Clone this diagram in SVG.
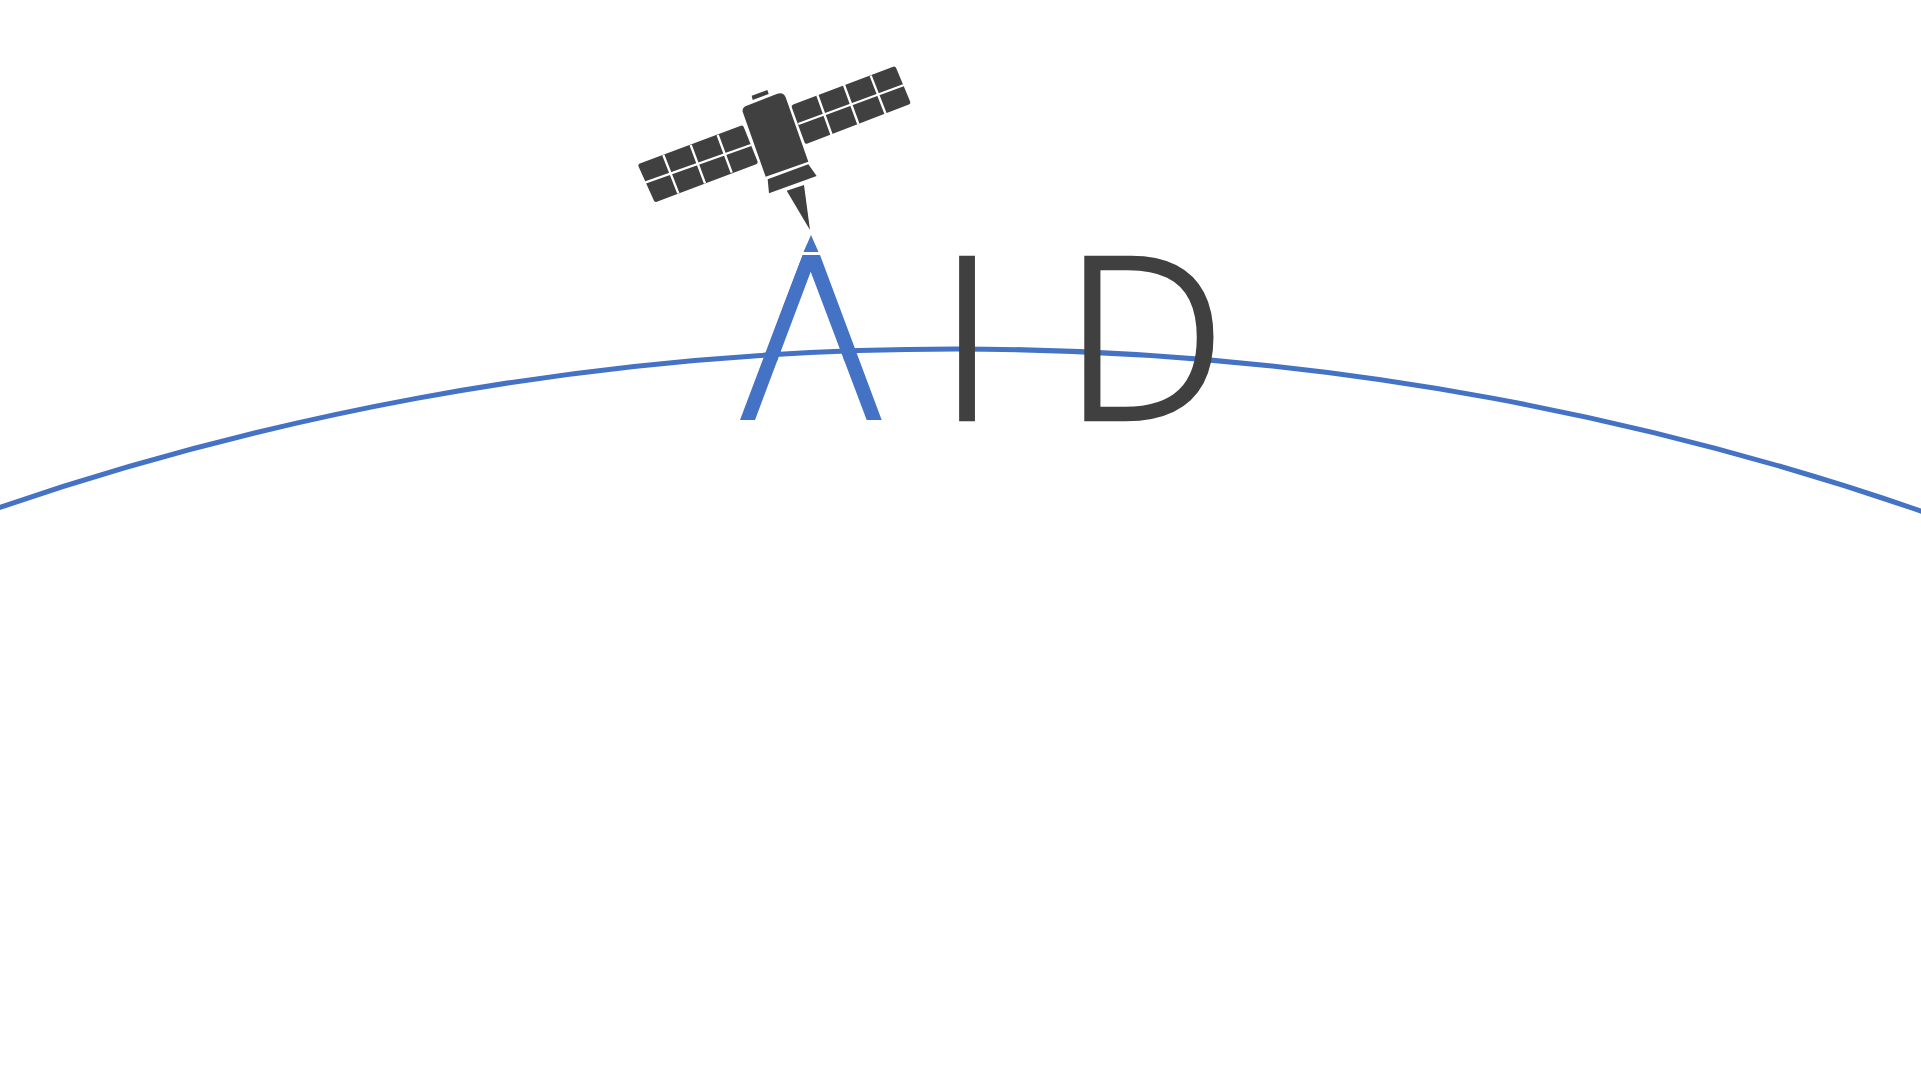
<svg xmlns="http://www.w3.org/2000/svg" width="1921" height="1081" viewBox="0 0 1921 1081">
<defs>
<clipPath id="a-legs"><polygon points="740,420 802.300,255 820,255 881.700,420 866.700,420 810.700,271.700 755,420"/></clipPath>
</defs>
<style>
.dark{fill:#404040}
.panel{fill:#404040;stroke:#404040;stroke-width:14;stroke-linejoin:round}
.grid{stroke:#fff;stroke-width:7;fill:none}
.letter{font-family:"Open Sans","Noto Sans",sans-serif;font-weight:300;font-size:225px;stroke-width:4.5px}
</style>
<rect width="1921" height="1081" fill="#fff"/>
<g id="title-a">
<text class="letter" x="811" y="420" text-anchor="middle" fill="#4472C4" stroke="#4472C4" style="font-size:232px;stroke-width:6px" clip-path="url(#a-legs)">A</text>
<polygon points="811,235 818.500,252 803.500,252" fill="#4472C4"/>
</g>
<g id="horizon"><circle cx="955" cy="3309" r="2960" fill="none" stroke="#4472C4" stroke-width="5"/></g>
<g id="satellite" transform="translate(620 50) scale(.33333)">
<polygon class="panel" points="62,347 365,234 406,336 108,449"/>
<polygon class="panel" points="522,170 822,57 864,157 560,274"/>
<path class="grid" d="M75 398 393 285M130 315 175 430M212 285 255 400M293 255 335 368M535 222 852 105M592 135 635 255M672 105 715 222M752 77 797 192"/>
<path class="dark" d="M368 185Q366 172 380 167L472 131Q490 125 497 142L565 335 437 380Z"/>
<polygon class="dark" points="395,137 442,120 446,132 398,150"/>
<polygon class="dark" points="443,388 565,343 590,378 447,430"/>
<polygon class="dark" points="500,422 552,405 570,540"/>
</g>
<g id="title-id">
<text class="letter" x="967" y="419" text-anchor="middle" fill="#404040" stroke="#404040">I</text>
<text class="letter" transform="translate(1063.500 419) scale(1.02 1)" fill="#404040" stroke="#404040">D</text>
</g>
</svg>
